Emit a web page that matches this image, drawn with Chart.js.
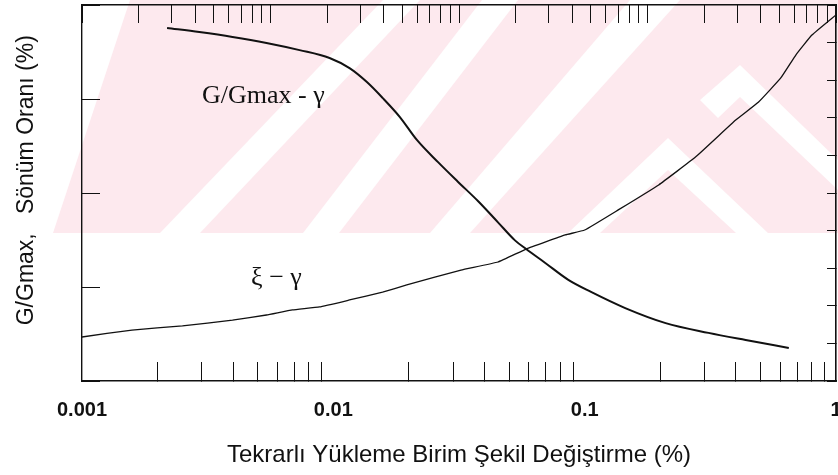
<!DOCTYPE html>
<html>
<head>
<meta charset="utf-8">
<script src="https://cdn.jsdelivr.net/npm/chart.js@4.4.1/dist/chart.umd.min.js"></script>
<style>
  html, body { margin: 0; padding: 0; background: #ffffff; }
  canvas { display: block; }
</style>
</head>
<body>
<canvas id="c" width="838" height="475"></canvas>
<script>
// Cyclic shear strain (%) and modulus reduction G/Gmax
const gStrain = [0.00218, 0.00293, 0.00397, 0.00542, 0.00734, 0.00966, 0.0116, 0.0136, 0.0157, 0.0184,
                 0.0215, 0.0261, 0.0313, 0.0377, 0.0452, 0.0528, 0.0585, 0.0697, 0.0861, 0.106,
                 0.145, 0.210, 0.311, 0.437, 0.649];
const gRatio  = [0.939, 0.928, 0.915, 0.899, 0.880, 0.859, 0.832, 0.795, 0.753, 0.702,
                 0.641, 0.582, 0.530, 0.478, 0.422, 0.374, 0.351, 0.314, 0.269, 0.237,
                 0.194, 0.154, 0.128, 0.109, 0.088];

// Cyclic shear strain (%) and damping ratio (%)
const dStrain = [0.001, 0.00158, 0.00251, 0.00397, 0.00542, 0.00688, 0.00881, 0.0116, 0.0157, 0.0196,
                 0.0322, 0.0452, 0.0585, 0.0837, 0.100, 0.136, 0.197, 0.276, 0.399, 0.492,
                 0.603, 0.692, 0.802, 1.0];
const dRatio  = [2.34, 2.71, 2.93, 3.24, 3.51, 3.78, 3.94, 4.31, 4.73, 5.11,
                 5.90, 6.33, 7.02, 7.77, 8.03, 9.10, 10.43, 11.91, 13.88, 14.84,
                 16.12, 17.34, 18.40, 19.47];

// Axis decades and their labels
const strainDecades = [0.001, 0.01, 0.1, 1];
const decadeLabels  = ['0.001', '0.01', '0.1', '1'];
const topDecades    = [0.0001, 0.001, 0.01, 0.1, 1];

// Curve captions
const curveLabels  = ['G/Gmax - γ', 'ξ − γ'];
const labelStrain  = [0.00527, 0.00594];
const labelRatio   = [0.739, 0.255];

const xTitle = 'Tekrarlı Yükleme Birim Şekil Değiştirme (%)';
const yTitle = '    G/Gmax,   Sönüm Oranı (%)';

function logTicks(decades) {
  const out = [];
  for (let i = 0; i < decades.length - 1; i++) {
    for (let m = 1; m <= 9; m++) out.push(Number((decades[i] * m).toPrecision(6)));
  }
  out.push(decades[decades.length - 1]);
  return out;
}
function isDecade(v) {
  return strainDecades.some(d => Math.abs(d - v) / d < 1e-6);
}
function fixBox(prop, size) {
  return function (scale) {
    scale[prop] = size;
    scale.paddingLeft = 0; scale.paddingRight = 0;
    scale.paddingTop = 0; scale.paddingBottom = 0;
  };
}

const INK = '#111111';
const SANS = "'Liberation Sans', Arial, sans-serif";
const SERIF = "'Liberation Serif', 'Times New Roman', serif";

// Faint pink stamp pattern behind the upper part of the plot
const backdropPlugin = {
  id: 'backdrop',
  beforeDraw(chart) {
    const ctx = chart.ctx;
    const poly = (pts, color) => {
      ctx.beginPath();
      ctx.moveTo(pts[0][0], pts[0][1]);
      for (let i = 1; i < pts.length; i++) ctx.lineTo(pts[i][0], pts[i][1]);
      ctx.closePath();
      ctx.fillStyle = color;
      ctx.fill();
    };
    ctx.save();
    ctx.fillStyle = '#ffffff';
    ctx.fillRect(0, 0, chart.width, chart.height);
    const pink = '#fde9ee', white = '#ffffff';
    poly([[130, 0], [838, 0], [838, 233], [53, 233]], pink);
    // diagonal light bands
    poly([[160, 233], [200, 233], [420, 0], [383, 0]], white);
    poly([[303, 233], [339, 233], [518, 0], [482, 0]], white);
    poly([[430, 233], [470, 233], [680, 0], [630, 0]], white);
    // chevrons
    poly([[568, 233], [600, 233], [668, 170], [736, 233], [768, 233], [668, 138]], white);
    poly([[700, 100], [718, 118], [740, 97], [838, 190], [838, 160], [740, 65]], white);
    ctx.restore();
  }
};

const captionPlugin = {
  id: 'curveCaptions',
  afterDatasetsDraw(chart) {
    const { ctx, scales } = chart;
    ctx.save();
    ctx.fillStyle = INK;
    ctx.font = '26px ' + SERIF;
    ctx.textAlign = 'center';
    ctx.textBaseline = 'alphabetic';
    curveLabels.forEach((t, i) => {
      ctx.fillText(t, scales.x.getPixelForValue(labelStrain[i]), scales.y.getPixelForValue(labelRatio[i]));
    });
    ctx.restore();
  }
};

const tickGrid = (len, colorFn) => ({
  display: true,
  drawOnChartArea: false,
  drawTicks: true,
  tickLength: -len,
  tickWidth: 1,
  tickColor: colorFn || INK,
  color: INK,
  lineWidth: 1
});

new Chart(document.getElementById('c'), {
  type: 'line',
  data: {
    datasets: [
      {
        label: 'G/Gmax',
        data: gStrain.map((x, i) => ({ x, y: gRatio[i] })),
        borderColor: INK,
        borderWidth: 2,
        pointRadius: 0,
        cubicInterpolationMode: 'monotone',
        fill: false,
        xAxisID: 'x',
        yAxisID: 'y'
      },
      {
        label: 'ξ',
        data: dStrain.map((x, i) => ({ x, y: dRatio[i] })),
        borderColor: INK,
        borderWidth: 1.3,
        pointRadius: 0,
        tension: 0.1,
        fill: false,
        xAxisID: 'x',
        yAxisID: 'y2'
      }
    ]
  },
  options: {
    responsive: false,
    animation: false,
    devicePixelRatio: 1,
    layout: { padding: 0 },
    plugins: { legend: { display: false }, tooltip: { enabled: false } },
    scales: {
      x: {
        type: 'logarithmic',
        position: 'bottom',
        min: 0.001,
        max: 1,
        afterBuildTicks: s => { s.ticks = logTicks(strainDecades).map(v => ({ value: v })); },
        afterFit: fixBox('height', 94),
        grid: tickGrid(19, c => (c.tick && isDecade(c.tick.value)) ? 'rgba(0,0,0,0)' : INK),
        border: { display: true, color: INK, width: 1.6 },
        ticks: {
          autoSkip: false,
          maxRotation: 0,
          minRotation: 0,
          padding: 36,
          color: INK,
          font: { family: SANS, size: 20, weight: 'bold' },
          callback: v => {
            const i = strainDecades.findIndex(d => Math.abs(d - v) / d < 1e-6);
            return i >= 0 ? decadeLabels[i] : '';
          }
        },
        title: {
          display: true,
          text: xTitle,
          color: INK,
          font: { family: SANS, size: 24 },
          padding: { top: 0, bottom: 5 }
        }
      },
      x2: {
        type: 'logarithmic',
        position: 'top',
        min: 0.0001,
        max: 1,
        afterBuildTicks: s => { s.ticks = logTicks(topDecades).map(v => ({ value: v })); },
        afterFit: fixBox('height', 5),
        grid: tickGrid(18),
        border: { display: true, color: INK, width: 1.4 },
        ticks: { display: false, autoSkip: false }
      },
      y: {
        type: 'linear',
        position: 'left',
        min: 0,
        max: 1,
        afterFit: fixBox('width', 82),
        grid: tickGrid(18),
        border: { display: true, color: INK, width: 1.4 },
        ticks: { display: false, stepSize: 0.25 },
        title: {
          display: true,
          text: yTitle,
          color: INK,
          font: { family: SANS, size: 23 },
          padding: { top: 13, bottom: 0 }
        }
      },
      y2: {
        type: 'linear',
        position: 'right',
        min: 0,
        max: 20,
        afterFit: fixBox('width', 2),
        grid: tickGrid(9),
        border: { display: true, color: INK, width: 1.6 },
        ticks: { display: false, stepSize: 2 }
      }
    }
  },
  plugins: [backdropPlugin, captionPlugin]
});
</script>
</body>
</html>
